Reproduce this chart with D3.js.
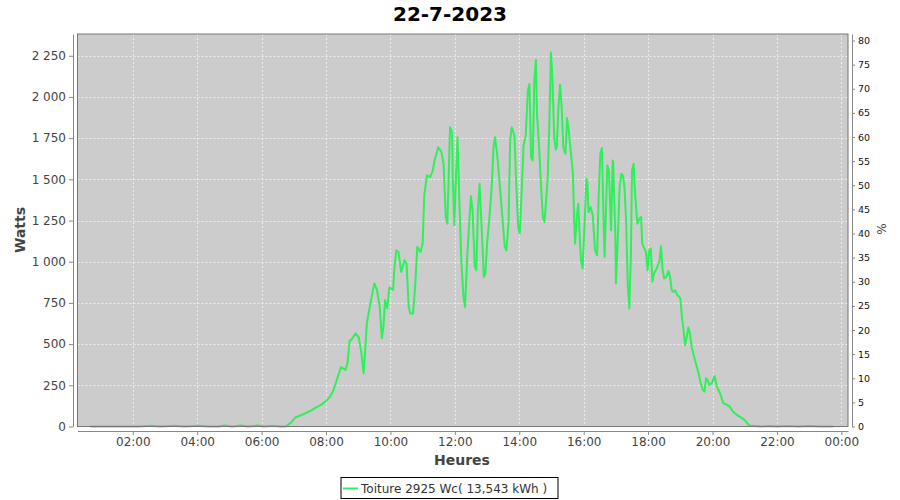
<!DOCTYPE html>
<html><head><meta charset="utf-8">
<script src="https://cdn.jsdelivr.net/npm/d3@7"></script>
<style>body{margin:0;background:#fff}svg{display:block;font-family:"DejaVu Sans",sans-serif}</style>
</head><body><svg id="c" width="900" height="500"></svg>
<script>
const chartTitle = "22-7-2023";
const seriesName = "Toiture 2925 Wc( 13,543 kWh )";
const xLabel = "Heures";
const yLabel = "Watts";
const y2Label = "%";
const times = ["00:41","01:30","02:10","02:36","02:50","03:21","03:35","04:04","04:20","04:40","04:51","05:05","05:21","05:35","05:52","06:05","06:21","06:35","06:44",
"06:54","07:03","07:12","07:22","07:31","07:40","07:50","07:59","08:08","08:14","08:21","08:28","08:36","08:40","08:44","08:48","08:55","09:01","09:06","09:10","09:13","09:16","09:21","09:28","09:30","09:35","09:40","09:44","09:47","09:50","09:54","09:58",
"10:05","10:07","10:11","10:15","10:20","10:26","10:30","10:34","10:37","10:42","10:46","10:50","10:56","11:00","11:03","11:08","11:14","11:19","11:22","11:29","11:35","11:39","11:43","11:46","11:48","11:51","11:55","11:56","11:59",
"12:02","12:05","12:08","12:12","12:16","12:19","12:23","12:27","12:30","12:33","12:37","12:40","12:43","12:46","12:49","12:54","12:57","13:00","13:04","13:09","13:12","13:15","13:20","13:25","13:29","13:33","13:36","13:40","13:43","13:46","13:51","13:54","13:58",
"14:01","14:04","14:08","14:12","14:16","14:19","14:22","14:25","14:28","14:31","14:33","14:37","14:40","14:44","14:47","14:50","14:53","14:56","14:59","15:02","15:05","15:08","15:10","15:13","15:16","15:19","15:22","15:26","15:29","15:32","15:35","15:40","15:42","15:44","15:47","15:50","15:52","15:55","15:58",
"16:01","16:05","16:07","16:09","16:13","16:17","16:21","16:25","16:28","16:31","16:34","16:37","16:39","16:42","16:44","16:47","16:51","16:54","16:55","16:59","17:00","17:03","17:07","17:10","17:13","17:16","17:19","17:22","17:25","17:28","17:30","17:33","17:35","17:38","17:40","17:44","17:47","17:49","17:53","17:56","17:59",
"18:02","18:05","18:08","18:11","18:16","18:21","18:24","18:27","18:30","18:34","18:38","18:41","18:44","18:47","18:50","18:55","19:00","19:03","19:06","19:09","19:12","19:15","19:18","19:21","19:24","19:29","19:34","19:38","19:42","19:45","19:48","19:51","19:54","19:59",
"20:04","20:08","20:14","20:20","20:27","20:32","20:38","20:45","20:55","21:01","21:07","21:13","21:30","21:45","22:00","22:20","22:40","23:00","23:20","23:45"];
const watts = [0,0,0,4,0,4,0,4,0,0,6,0,6,0,6,0,5,0,0,
20,55,67,81,95,113,130,151,182,222,293,360,343,384,521,529,565,541,444,323,464,626,717,838,868,827,726,535,605,767,717,844,
830,949,1069,1059,938,1009,989,726,686,686,847,1090,1059,1110,1403,1524,1513,1554,1614,1695,1665,1594,1271,1231,1453,1816,1786,1513,1221,
1513,1755,1413,1009,787,726,1029,1251,1397,1312,969,949,1312,1473,1271,908,929,1110,1251,1473,1695,1755,1614,1413,1251,1090,1069,1231,1735,1816,1766,1493,1211,
1171,1392,1705,1766,2038,2079,1634,1614,2099,2224,1897,1695,1493,1271,1241,1372,1513,1836,2270,2099,1755,1680,1695,1937,2074,1937,1695,1655,1870,1800,1700,1534,1271,1110,1271,1352,1191,1009,959,
1180,1504,1473,1300,1332,1280,1069,1039,1413,1655,1690,1251,1029,1372,1584,1554,1191,1614,1604,1150,868,1090,1453,1534,1524,1453,1251,868,717,1049,1554,1594,1453,1312,1231,1261,1271,1110,1080,1059,949,
1069,1080,878,929,959,1000,1094,949,898,908,944,908,827,817,827,797,777,666,585,494,545,602,565,484,444,384,323,263,222,212,293,283,252,263,
307,242,202,142,131,121,91,71,51,36,10,4,0,3,0,3,0,3,0,0];
const wattTicks = [0,250,500,750,1000,1250,1500,1750,2000,2250];
const pctTicks = [0,5,10,15,20,25,30,35,40,45,50,55,60,65,70,75,80];
const hourTicks = [2,4,6,8,10,12,14,16,18,20,22,24];

const svg = d3.select("#c");
const L = 77.5, R = 848, T = 34, B = 426.5;
const day = h => new Date(2023, 6, 22, 0, 0).getTime() + h * 3600000;
const parse = s => { const [h, m] = s.split(":").map(Number); return new Date(day(h + m / 60)); };
const x = d3.scaleTime().domain([new Date(day(17 / 60)), new Date(day(24 + 12.4 / 60))]).range([L, R]);
const y = d3.scaleLinear().domain([0, 2382]).range([B, T]);
const y2 = d3.scaleLinear().domain([0, 81.35]).range([B, T]);
const fr = d3.formatLocale({decimal: ",", thousands: " ", grouping: [3], currency: ["", "€"]}).format(",d");

svg.append("rect").attr("width", 900).attr("height", 500).attr("fill", "#fff");
svg.append("text").attr("x", 450).attr("y", 21).attr("text-anchor", "middle")
  .attr("font-size", 20).attr("font-weight", "bold").attr("fill", "#000").text(chartTitle);

svg.append("rect").attr("x", L).attr("y", T).attr("width", R - L).attr("height", B - T).attr("fill", "#cccccc");

const grid = svg.append("g").attr("stroke", "#f4f4f4").attr("stroke-width", 0.8).attr("stroke-dasharray", "2,2");
grid.selectAll(".h").data(wattTicks).join("line").attr("x1", L).attr("x2", R)
  .attr("y1", d => Math.round(y(d)) + 0.5).attr("y2", d => Math.round(y(d)) + 0.5);
grid.selectAll(".v").data(hourTicks).join("line").attr("y1", T).attr("y2", B)
  .attr("x1", d => Math.round(x(new Date(day(d)))) + 0.5).attr("x2", d => Math.round(x(new Date(day(d)))) + 0.5);

svg.append("clipPath").attr("id", "clip").append("rect").attr("x", L).attr("y", T).attr("width", R - L).attr("height", B - T + 2);
const pts = times.map((t, i) => [parse(t), watts[i]]);
svg.append("path").datum(pts).attr("clip-path", "url(#clip)")
  .attr("fill", "none").attr("stroke", "#2ef05a").attr("stroke-width", 2).attr("stroke-linejoin", "round")
  .attr("d", d3.line().x(d => x(d[0])).y(d => y(d[1])));

svg.append("rect").attr("x", L).attr("y", T).attr("width", R - L).attr("height", B - T)
  .attr("fill", "none").attr("stroke", "#777").attr("stroke-width", 1);

function styleAxis(g, col, fs) {
  g.select(".domain").attr("stroke", "#888");
  g.selectAll(".tick line").attr("stroke", "#888");
  g.selectAll(".tick text").attr("fill", col).attr("font-size", fs).attr("font-family", "DejaVu Sans");
}
const ax = svg.append("g").attr("transform", "translate(73,0)")
  .call(d3.axisLeft(y).tickValues(wattTicks).tickFormat(fr).tickSize(4).tickSizeOuter(0).tickPadding(3));
styleAxis(ax, "#444", 12);
const ax2 = svg.append("g").attr("transform", "translate(852,0)")
  .call(d3.axisRight(y2).tickValues(pctTicks).tickSize(3).tickSizeOuter(0).tickPadding(3));
styleAxis(ax2, "#111", 9.5);
const axb = svg.append("g").attr("transform", "translate(0,431)")
  .call(d3.axisBottom(x).tickValues(hourTicks.map(h => new Date(day(h)))).tickFormat(d3.timeFormat("%H:%M")).tickSize(4).tickSizeOuter(0).tickPadding(2));
styleAxis(axb, "#444", 12);

svg.append("text").attr("transform", "translate(25,230) rotate(-90)").attr("text-anchor", "middle")
  .attr("font-size", 14).attr("font-weight", "bold").attr("fill", "#444").text(yLabel);
svg.append("text").attr("transform", "translate(886,229) rotate(-90)").attr("text-anchor", "middle")
  .attr("font-size", 12).attr("fill", "#444").text(y2Label);
svg.append("text").attr("x", 462).attr("y", 465).attr("text-anchor", "middle")
  .attr("font-size", 14).attr("font-weight", "bold").attr("fill", "#444").text(xLabel);

const lg = svg.append("g");
lg.append("rect").attr("x", 341).attr("y", 477.5).attr("width", 217).attr("height", 21).attr("fill", "#fff").attr("stroke", "#000");
lg.append("line").attr("x1", 343).attr("x2", 358).attr("y1", 488.5).attr("y2", 488.5).attr("stroke", "#2ef05a").attr("stroke-width", 2);
lg.append("text").attr("x", 361).attr("y", 493).attr("font-size", 12).attr("fill", "#333").text(seriesName);
</script></body></html>
